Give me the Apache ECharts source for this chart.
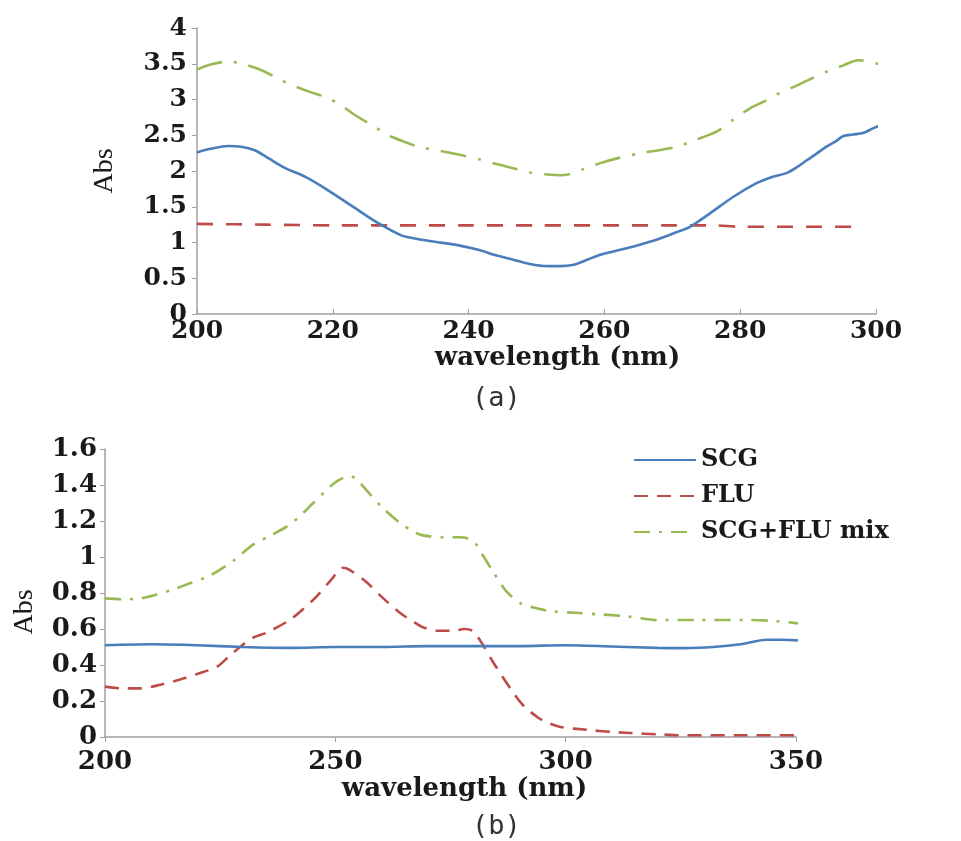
<!DOCTYPE html>
<html>
<head>
<meta charset="utf-8">
<script src="https://cdn.jsdelivr.net/npm/echarts@6/dist/echarts.min.js"></script>
<style>
html,body{margin:0;padding:0;background:#fff;}
#chart{width:961px;height:841px;}
</style>
</head>
<body>
<div id="chart"></div>
<script>
// ---------- Data (wavelength nm, absorbance) ----------
const seriesNames = ['SCG', 'FLU', 'SCG+FLU mix'];

// Panel (a)
const aSCG = [[200,2.26],[202,2.31],[204.6,2.35],[206.5,2.34],[208.5,2.29],[210.5,2.18],[213,2.04],[215.9,1.92],[219.3,1.73],[223.3,1.48],[226.7,1.27],[230.1,1.10],[232.5,1.05],[235,1.01],[238,0.97],[241.7,0.89],[244,0.82],[246.6,0.76],[249,0.70],[251.6,0.67],[253.5,0.67],[255.5,0.69],[257.5,0.76],[259.4,0.83],[262,0.89],[265.2,0.97],[268,1.05],[270.5,1.14],[272.6,1.22],[275.6,1.41],[279,1.64],[282.4,1.83],[284.5,1.91],[286.8,1.97],[288.3,2.05],[289.8,2.15],[291.2,2.24],[292.7,2.34],[294,2.41],[295.2,2.49],[296.6,2.51],[298.1,2.53],[299.2,2.58],[300.1,2.62],[301.3,2.64],[302.6,2.68]];
const aFLU = [[200,1.26],[210,1.25],[220,1.24],[230,1.24],[240,1.24],[250,1.24],[260,1.24],[270,1.24],[276,1.24],[280,1.22],[290,1.22],[297.4,1.22]];
const aMIX = [[200,3.42],[202,3.49],[204.6,3.53],[207,3.49],[209.5,3.41],[212,3.29],[214,3.20],[216.5,3.11],[219.3,3.02],[221.5,2.90],[223.3,2.78],[225.8,2.64],[228.2,2.50],[230.5,2.41],[232.6,2.34],[235.8,2.28],[238,2.24],[241.7,2.16],[244,2.10],[246.6,2.04],[249,1.98],[251.6,1.95],[253.5,1.94],[255,1.96],[257,2.03],[259.4,2.11],[262,2.18],[265.9,2.26],[268,2.29],[270.7,2.34],[273,2.42],[276.5,2.55],[279,2.72],[281.5,2.88],[283.9,2.99],[286,3.10],[288,3.18],[290,3.27],[293,3.40],[295,3.47],[297.4,3.55],[299,3.53],[300.5,3.50],[302.6,3.50]];

// Panel (b)
const bSCG = [[200,0.51],[210,0.515],[220,0.51],[230,0.50],[240,0.495],[250,0.50],[260,0.50],[270,0.505],[280,0.505],[290,0.505],[300,0.51],[310,0.503],[320,0.495],[326,0.494],[332,0.50],[338,0.515],[343.6,0.54],[347,0.54],[350.4,0.537]];
const bFLU = [[200,0.28],[204,0.27],[207.6,0.27],[212,0.29],[216.3,0.32],[220,0.35],[224.3,0.39],[227,0.45],[229.3,0.50],[232,0.55],[235.1,0.58],[240.1,0.65],[243,0.71],[245.9,0.78],[249,0.87],[251.7,0.94],[253,0.93],[256.8,0.86],[260,0.78],[264,0.69],[267,0.64],[269,0.61],[272,0.59],[275.5,0.59],[278,0.60],[279.8,0.59],[281.6,0.53],[284.4,0.41],[288.8,0.24],[291,0.17],[293.9,0.11],[296,0.08],[298.9,0.056],[304.6,0.04],[310,0.028],[314,0.022],[320,0.015],[324.7,0.01],[339.3,0.01],[349.7,0.01]];
const bMIX = [[200,0.77],[204,0.765],[207.6,0.77],[211,0.79],[214.9,0.82],[218,0.85],[222.2,0.89],[225,0.93],[227.9,0.98],[232.2,1.07],[236,1.12],[239.5,1.17],[242,1.22],[245.2,1.30],[248,1.37],[250.3,1.42],[253.2,1.45],[255,1.42],[256.8,1.37],[260,1.28],[264,1.19],[267,1.14],[269,1.12],[273.4,1.11],[277,1.11],[279.9,1.09],[282,1.01],[284.2,0.92],[287.1,0.81],[290.4,0.74],[293,0.72],[296.5,0.70],[302,0.69],[308.1,0.68],[313.5,0.67],[320,0.65],[328.6,0.65],[339.5,0.65],[345,0.645],[351,0.63]];

const xTitle = 'wavelength (nm)';
const yTitle = 'Abs';
const panelLabels = ['(a)', '(b)'];

// ---------- Styling ----------
const colors = ['#4A7EBB', '#BE4B48', '#98B954'];
const serif = 'DejaVu Serif';
const axisGray = '#A0A0A0';

function lineSeries(name, data, idx, color, type, xi) {
  return {
    name: name, type: 'line', data: data, xAxisIndex: xi, yAxisIndex: xi,
    showSymbol: false, symbol: 'none', smooth: 0.3, clip: false,
    lineStyle: { color: color, width: 2.6, type: type, cap: 'butt' },
    itemStyle: { color: color },
    emphasis: { disabled: true }, z: 3 - idx
  };
}

const chart = echarts.init(document.getElementById('chart'), null, { renderer: 'canvas' });

const option = {
  backgroundColor: '#ffffff',
  animation: false,
  grid: [
    { left: 197, top: 28, width: 679, height: 286 },
    { left: 105, top: 449, width: 691, height: 288 }
  ],
  xAxis: [
    {
      gridIndex: 0, type: 'value', min: 200, max: 300, interval: 20,
      name: xTitle, nameLocation: 'middle', nameGap: 30,
      nameTextStyle: { fontFamily: serif, fontWeight: 'bold', fontSize: 26, color: '#1a1a1a', padding: [0,0,0,42] },
      axisLine: { show: true, lineStyle: { color: axisGray, width: 1.5 } },
      axisTick: { show: true, inside: true, length: 5, lineStyle: { color: axisGray } },
      axisLabel: { fontFamily: serif, fontWeight: 'bold', fontSize: 25, color: '#1a1a1a', margin: 5 },
      splitLine: { show: false }
    },
    {
      gridIndex: 1, type: 'value', min: 200, max: 350, interval: 50,
      name: xTitle, nameLocation: 'middle', nameGap: 36,
      nameTextStyle: { fontFamily: serif, fontWeight: 'bold', fontSize: 26, color: '#1a1a1a', padding: [0,0,0,28] },
      axisLine: { show: true, lineStyle: { color: axisGray, width: 1.5 } },
      axisTick: { show: true, inside: false, length: 5, lineStyle: { color: axisGray } },
      axisLabel: { fontFamily: serif, fontWeight: 'bold', fontSize: 26, color: '#1a1a1a', margin: 12 },
      splitLine: { show: false }
    }
  ],
  yAxis: [
    {
      gridIndex: 0, type: 'value', min: 0, max: 4, interval: 0.5,
      name: yTitle, nameLocation: 'middle', nameGap: 78, nameRotate: 90,
      nameTextStyle: { fontFamily: 'Liberation Serif', fontSize: 28, color: '#1a1a1a' },
      axisLine: { show: true, lineStyle: { color: axisGray, width: 1.5 } },
      axisTick: { show: true, inside: false, length: 5, lineStyle: { color: axisGray } },
      axisLabel: { fontFamily: serif, fontWeight: 'bold', fontSize: 25, color: '#1a1a1a', margin: 10 },
      splitLine: { show: false }
    },
    {
      gridIndex: 1, type: 'value', min: 0, max: 1.6, interval: 0.2,
      name: yTitle, nameLocation: 'middle', nameGap: 66, nameRotate: 90,
      nameTextStyle: { fontFamily: 'Liberation Serif', fontSize: 28, color: '#1a1a1a', padding: [0,38,0,0] },
      axisLine: { show: true, lineStyle: { color: axisGray, width: 1.5 } },
      axisTick: { show: true, inside: false, length: 5, lineStyle: { color: axisGray } },
      axisLabel: { fontFamily: serif, fontWeight: 'bold', fontSize: 26, color: '#1a1a1a', margin: 8 },
      splitLine: { show: false }
    }
  ],
  legend: {
    data: seriesNames, orient: 'vertical', left: 628, top: 443,
    itemWidth: 62, itemHeight: 14, itemGap: 12,
    itemStyle: { opacity: 0 },
    textStyle: { fontFamily: serif, fontWeight: 'bold', fontSize: 24, color: '#1a1a1a' },
    selectedMode: false
  },
  graphic: [
    { type: 'text', left: 472, top: 385, style: { text: panelLabels[0], fontFamily: 'DejaVu Sans Mono', fontSize: 27, fill: '#333' } },
    { type: 'text', left: 472, top: 813, style: { text: panelLabels[1], fontFamily: 'DejaVu Sans Mono', fontSize: 27, fill: '#333' } }
  ],
  series: [
    lineSeries('SCG (a)', aSCG, 0, colors[0], 'solid', 0),
    lineSeries('FLU (a)', aFLU, 1, colors[1], [16, 13], 0),
    lineSeries('SCG+FLU mix (a)', aMIX, 2, colors[2], [26, 12, 3, 12], 0),
    lineSeries(seriesNames[0], bSCG, 0, colors[0], 'solid', 1),
    lineSeries(seriesNames[1], bFLU, 1, colors[1], [14, 9], 1),
    lineSeries(seriesNames[2], bMIX, 2, colors[2], [16, 9, 3, 9], 1)
  ]
};
chart.setOption(option);
</script>
</body>
</html>
